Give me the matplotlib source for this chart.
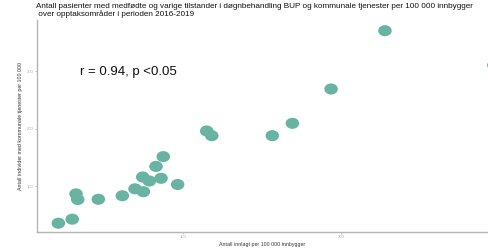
import matplotlib
matplotlib.use("Agg")
import matplotlib.pyplot as plt
from matplotlib.path import Path

# Data
innlagt = [21.1, 29.9, 32.3, 33.4, 46.4, 61.6, 69.6, 74.9, 74.5, 78.7, 86.1,
           82.9, 87.5, 96.6, 115.0, 118.2, 156.5, 169.2, 193.7, 227.8, 296.7]
kommunale = [35.3, 42.3, 86.3, 76.5, 76.9, 83.1, 95.1, 90.1, 115.7, 108.7, 113.4,
             134.1, 151.1, 102.6, 195.7, 187.5, 187.5, 209.0, 268.7, 370.1, 310.0]
xticks = [100, 200]
yticks = [100, 200, 300]

title = ("Antall pasienter med medfødte og varige tilstander i døgnbehandling BUP og kommunale tjenester per 100 000 innbygger\n"
         " over opptaksområder i perioden 2016-2019")
annot = "r = 0.94, p <0.05"

plt.rcParams['font.family'] = ['Liberation Sans', 'DejaVu Sans']

fig = plt.figure(figsize=(4.88, 2.5), dpi=100)
ax = fig.add_axes([37/488, 1 - 232/250, 1 - 37/488, (232 - 20)/250])

circ = Path.unit_circle()
ellipse = Path(circ.vertices * [1.0, 0.82], circ.codes)

ax.scatter(innlagt, kommunale, s=95, marker=ellipse, color='#69b3a2',
           edgecolors='none', zorder=3)

ax.set_xlim(7.6, 293)
ax.set_ylim(20, 388.7)
ax.set_xticks(xticks)
ax.set_yticks(yticks)
ax.tick_params(labelsize=3, colors='#b0b0b0', length=1.5, width=0.5, pad=1)
for lab in ax.get_xticklabels() + ax.get_yticklabels():
    lab.set_color('#a8a8a8')

for side in ['top', 'right']:
    ax.spines[side].set_visible(False)
for side in ['left', 'bottom']:
    ax.spines[side].set_color('#b5b5b5')
    ax.spines[side].set_linewidth(1.0)

ax.set_xlabel("Antall innlagt per 100 000 innbygger", fontsize=3.8, color='#333333', labelpad=2)
ax.set_ylabel("Antall individer med kommunale tjenester per 100 000", fontsize=3.8, color='#333333', labelpad=3)

fig.text(36/488, 1 - 3/250, title, fontsize=5.85, ha='left', va='top', color='#111111', linespacing=1.0)
fig.text(80/488, 1 - 72/250, annot, fontsize=9.5, ha='left', va='center', color='#111111')

fig.savefig("out.png", dpi=100)
